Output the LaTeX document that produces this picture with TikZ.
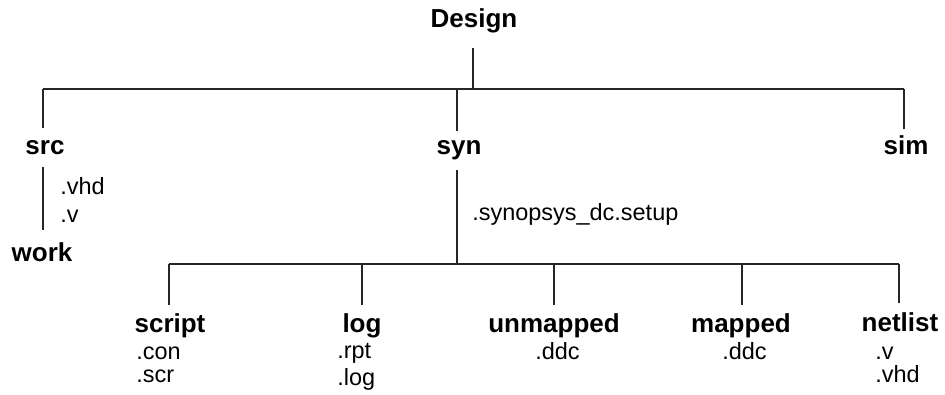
\documentclass[tikz,border=0pt]{standalone}
\usepackage{fontspec}
\setmainfont{Liberation Sans}
\usepackage{tikz}

\tikzset{
  dirname/.style={font=\fontsize{19.5}{22}\selectfont\bfseries, inner sep=0pt, anchor=base},
  filename/.style={font=\fontsize{17.6}{20}\selectfont, inner sep=0pt, anchor=base west},
  treeline/.style={line width=0.9pt, black!85}
}

\begin{document}
\begin{tikzpicture}[x=0.75pt,y=0.75pt,yscale=-1,xscale=1]
\useasboundingbox (0,0) rectangle (945,394);

%Coordinates of the tree junctions
\coordinate (designB) at (473,48);
\coordinate (topJ) at (473,89);
\coordinate (topL) at (43,89);
\coordinate (topR) at (904,89);
\coordinate (topM) at (457,89);
\coordinate (srcT) at (43,128);
\coordinate (synT) at (457,131);
\coordinate (simT) at (904,129);
\coordinate (srcB) at (43,167);
\coordinate (workT) at (43,230);
\coordinate (synB) at (457,170);
\coordinate (botJ) at (457,264);
\coordinate (botL) at (169,264);
\coordinate (botR) at (899,264);
\coordinate (logJ) at (362,264);
\coordinate (unmJ) at (554,264);
\coordinate (mapJ) at (742,264);
\coordinate (scriptT) at (169,305);
\coordinate (logT) at (362,305);
\coordinate (unmT) at (554,305);
\coordinate (mapT) at (742,305);
\coordinate (netT) at (899,303);

%Straight Lines
\draw [treeline] (designB) -- (topJ);
\draw [treeline] (topL) -- (topR);
\draw [treeline] (topL) -- (srcT);
\draw [treeline] (topM) -- (synT);
\draw [treeline] (topR) -- (simT);
\draw [treeline] (srcB) -- (workT);
\draw [treeline] (synB) -- (botJ);
\draw [treeline] (botL) -- (botR);
\draw [treeline] (botL) -- (scriptT);
\draw [treeline] (logJ) -- (logT);
\draw [treeline] (unmJ) -- (unmT);
\draw [treeline] (mapJ) -- (mapT);
\draw [treeline] (botR) -- (netT);

% Text Node
\node [dirname] (design) at (474,27) {Design};
% Text Node
\node [dirname] (src) at (45,154) {src};
\node [dirname] (syn) at (459,154) {syn};
\node [dirname] (sim) at (906,154) {sim};
% Text Node
\node [filename] (srcvhd) at (60,194) {.vhd};
\node [filename] (srcv) at (60,222) {.v};
\node [dirname] (work) at (42,261) {work};
% Text Node
\node [filename] (setup) at (472,220) {.synopsys\_dc.setup};
% Text Node
\node [dirname] (script) at (170,332) {script};
\node [dirname] (log) at (362,332) {log};
\node [dirname] (unmapped) at (554,332) {unmapped};
\node [dirname] (mapped) at (741,332) {mapped};
\node [dirname] (netlist) at (900,331) {netlist};
% Text Node
\node [filename] (con) at (136,359) {.con};
\node [filename] (scr) at (136,382) {.scr};
\node [filename] (rpt) at (337,358) {.rpt};
\node [filename] (logf) at (337,385) {.log};
\node [filename] (unmddc) at (535,359) {.ddc};
\node [filename] (mapddc) at (722,359) {.ddc};
\node [filename] (netv) at (875,359) {.v};
\node [filename] (netvhd) at (875,382) {.vhd};

\end{tikzpicture}
\end{document}
